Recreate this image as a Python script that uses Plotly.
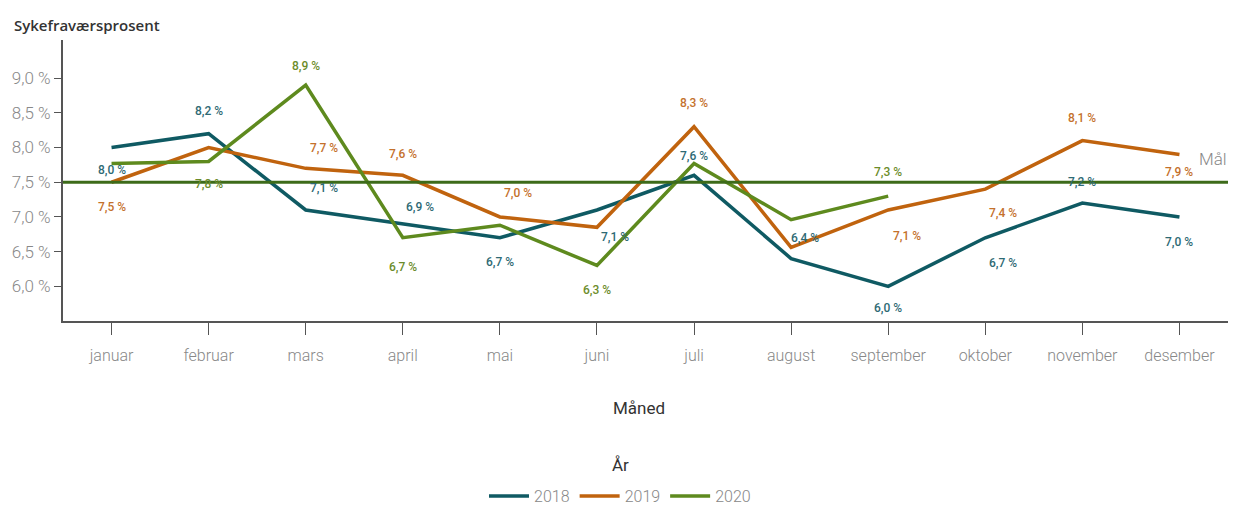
import plotly.graph_objects as go

# Monthly sick-leave percentage per year
months = ["januar", "februar", "mars", "april", "mai", "juni", "juli",
          "august", "september", "oktober", "november", "desember"]
values_2018 = [8.0, 8.2, 7.1, 6.9, 6.7, 7.1, 7.6, 6.4, 6.0, 6.7, 7.2, 7.0]
values_2019 = [7.5, 8.0, 7.7, 7.6, 7.0, 6.85, 8.3, 6.56, 7.1, 7.4, 8.1, 7.9]
values_2020 = [7.77, 7.8, 8.9, 6.7, 6.88, 6.3, 7.77, 6.96, 7.3]
goal = 7.5

y_ticks = [6.0, 6.5, 7.0, 7.5, 8.0, 8.5, 9.0]
y_tick_text = [f"{v:.1f} %".replace(".", ",") for v in y_ticks]

series = [
    ("2018", values_2018, "#0f5a63", "#2e6a74"),
    ("2019", values_2019, "#c0630e", "#c4712c"),
    ("2020", values_2020, "#5e8a1e", "#6c8c2a"),
]

# Which points carry a value label, and where the label sits (yshift, xshift in px)
label_spots = {
    "2018": {0: (-22, 0), 1: (23, 0), 2: (22, 18), 3: (17, 17), 4: (-24, 0),
             5: (-27, 18), 6: (19, 0), 7: (21, 14), 8: (-22, 0), 9: (-25, 18),
             10: (21, 0), 11: (-25, 0)},
    "2019": {0: (-25, 0), 2: (20, 18), 3: (21, 0), 4: (24, 18), 6: (24, 0),
             8: (-26, 19), 9: (-24, 18), 10: (23, 0), 11: (-18, 0)},
    "2020": {1: (-23, 0), 2: (19, 0), 3: (-29, 0), 5: (-25, 0), 8: (24, 0)},
}

font_main = "Roboto, Lato, sans-serif"

fig = go.Figure()
annotations = []
for name, vals, color, label_color in series:
    fig.add_trace(go.Scatter(
        x=months[:len(vals)], y=vals, mode="lines", name=name,
        line=dict(color=color, width=3.5),
        hoverinfo="skip",
    ))
    for idx, (dy, dx) in label_spots[name].items():
        annotations.append(dict(
            x=months[idx], y=vals[idx], xref="x", yref="y",
            text=f"{vals[idx]:.1f} %".replace(".", ","),
            showarrow=False, yshift=dy, xshift=dx,
            font=dict(family=font_main, size=12, color=label_color, weight=500),
        ))

# Target line
fig.add_shape(type="line", xref="paper", x0=0, x1=1, yref="y", y0=goal, y1=goal,
              line=dict(color="#3d6b1a", width=3), layer="above")
annotations.append(dict(x=0.988, xref="paper", y=goal, yref="y", yshift=23, xshift=15,
                        text="Mål", showarrow=False,
                        font=dict(family=font_main, size=17, color="#888888", weight=300)))

# Chart heading, x-axis title and legend heading
annotations.append(dict(x=0.0, xref="paper", xanchor="left", xshift=-51,
                        y=1, yref="paper", yanchor="middle", yshift=15,
                        text="Sykefraværsprosent", showarrow=False,
                        font=dict(family="Open Sans, sans-serif", size=15,
                                  color="#333333", weight=600)))
annotations.append(dict(x=0.494, xref="paper", y=0, yref="paper", yshift=-99,
                        text="Måned", showarrow=False,
                        font=dict(family=font_main, size=17, color="#333333")))
annotations.append(dict(x=0.5, xref="paper", xshift=-25, y=0, yref="paper", yshift=-156,
                        text="År", showarrow=False,
                        font=dict(family=font_main, size=17, color="#333333")))

fig.update_layout(
    width=1240, height=513,
    margin=dict(l=63, r=12, t=40, b=192, autoexpand=False),
    paper_bgcolor="white", plot_bgcolor="white",
    annotations=annotations,
    showlegend=True,
    legend=dict(
        orientation="h", x=0.5, xref="container", xanchor="center",
        y=0.0, yref="container", yanchor="bottom",
        font=dict(family=font_main, size=16, color="#888888", weight=300),
        itemwidth=40,
    ),
    xaxis=dict(
        type="category", categoryorder="array", categoryarray=months,
        range=[-0.5, 11.5], showgrid=False, zeroline=False, automargin=False,
        showline=True, linecolor="#555555", linewidth=2,
        ticks="outside", ticklen=12, tickcolor="#555555", tickwidth=1,
        ticklabelstandoff=7,
        tickfont=dict(family=font_main, size=16, color="#888888", weight=300),
        fixedrange=True,
    ),
    yaxis=dict(
        range=[5.5, 9.55], showgrid=False, zeroline=False, automargin=False,
        showline=True, linecolor="#555555", linewidth=2,
        ticks="outside", ticklen=7, tickcolor="#555555",
        tickvals=y_ticks, ticktext=y_tick_text,
        tickfont=dict(family=font_main, size=17, color="#888888", weight=300),
        fixedrange=True,
    ),
)

fig.write_html("out.html")
